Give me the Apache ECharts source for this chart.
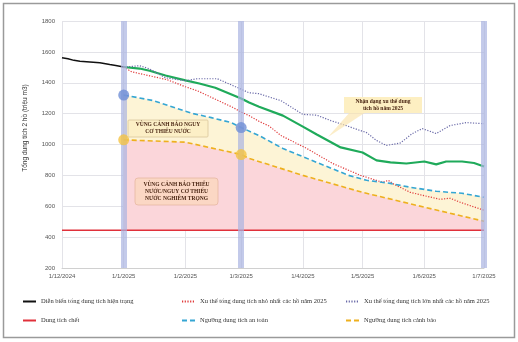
<!DOCTYPE html>
<html><head><meta charset="utf-8">
<script src="https://cdn.jsdelivr.net/npm/echarts@6/dist/echarts.min.js"></script>
<style>html,body{margin:0;padding:0;background:#fff}#c{width:518px;height:342px}</style>
</head><body><div id="c"></div>
<script>
var xTickLabels = ['1/12/2024','1/1/2025','1/2/2025','1/3/2025','1/4/2025','1/5/2025','1/6/2025','1/7/2025'];
var yTicks = [200,400,600,800,1000,1200,1400,1600,1800];
var bandDates = ['2025-01-01','2025-03-01','2025-07-01'];

var current = [['2024-12-01',1562],['2024-12-04',1555],['2024-12-07',1545],['2024-12-10',1540],['2024-12-15',1535],['2024-12-20',1530],['2024-12-25',1518],['2024-12-28',1512],['2025-01-01',1502]];
var trend = [['2025-01-01',1502],['2025-01-09',1492],['2025-01-14',1478],['2025-01-22',1447],['2025-02-01',1415],['2025-02-08',1395],['2025-02-16',1368],['2025-03-01',1298],['2025-03-05',1272],['2025-03-10',1245],['2025-03-22',1187],['2025-04-01',1116],['2025-04-08',1065],['2025-04-20',981],['2025-05-01',948],['2025-05-08',897],['2025-05-15',884],['2025-05-23',877],['2025-06-01',890],['2025-06-07',871],['2025-06-12',890],['2025-06-20',890],['2025-06-26',880],['2025-07-01',858]];
var minTrend = [['2025-01-01',1502],['2025-01-05',1471],['2025-01-14',1445],['2025-01-23',1419],['2025-02-01',1374],['2025-02-07',1348],['2025-02-25',1239],['2025-03-01',1210],['2025-03-05',1187],['2025-03-10',1150],['2025-03-15',1120],['2025-03-21',1058],['2025-04-03',974],['2025-04-16',877],['2025-04-30',800],['2025-05-11',755],['2025-05-14',768],['2025-05-16',748],['2025-05-25',690],['2025-05-31',671],['2025-06-09',645],['2025-06-14',652],['2025-06-19',626],['2025-07-01',574]];
var maxTrend = [['2025-01-01',1502],['2025-01-09',1510],['2025-01-14',1490],['2025-01-22',1432],['2025-02-01',1413],['2025-02-07',1426],['2025-02-17',1426],['2025-02-25',1381],['2025-03-05',1335],['2025-03-10',1329],['2025-03-13',1316],['2025-03-21',1284],['2025-04-01',1195],['2025-04-08',1190],['2025-04-15',1155],['2025-04-21',1130],['2025-04-30',1090],['2025-05-03',1077],['2025-05-08',1026],['2025-05-13',994],['2025-05-20',1010],['2025-05-26',1071],['2025-05-31',1103],['2025-06-07',1071],['2025-06-14',1123],['2025-06-22',1142],['2025-07-01',1135]];
var deadStorage = [['2024-12-01',445],['2025-07-01',445]];
var safeThreshold = [['2025-01-01',1320],['2025-01-03',1316],['2025-01-16',1284],['2025-01-28',1232],['2025-02-05',1200],['2025-02-14',1174],['2025-02-24',1142],['2025-03-01',1110],['2025-03-10',1058],['2025-03-22',974],['2025-04-08',884],['2025-04-24',800],['2025-05-03',768],['2025-05-15',748],['2025-05-25',723],['2025-06-07',697],['2025-06-20',684],['2025-07-01',658]];
var warnThreshold = [['2025-01-01',1030],['2025-02-01',1015],['2025-03-01',935],['2025-03-05',910],['2025-04-01',800],['2025-05-01',690],['2025-06-01',594],['2025-07-01',503]];
var safePoints = [['2025-01-01',1320],['2025-03-01',1110]];
var warnPoints = [['2025-01-01',1030],['2025-03-01',935]];

var names = ['Diễn biến tổng dung tích hiện trạng','Xu thế tổng dung tích nhỏ nhất các hồ năm 2025','Xu thế tổng dung tích lớn nhất các hồ năm 2025','Dung tích chết','Ngưỡng dung tích an toàn','Ngưỡng dung tích cảnh báo'];

var chart = echarts.init(document.getElementById('c'));
var serif = 'Liberation Serif';
var sans = 'Liberation Sans';
function fmtDate(v){var d=new Date(v);return d.getDate()+'/'+(d.getMonth()+1)+'/'+d.getFullYear();}
var legendPos = [[22,298],[181,298],[345,298],[22,317],[181,317],[345,317]];
var legends = names.map(function(n,i){return {data:[n],left:legendPos[i][0],top:legendPos[i][1],padding:0,itemWidth:13,itemHeight:8,itemStyle:{opacity:0},textStyle:{fontFamily:serif,fontSize:6.5,color:'#333'},selectedMode:false};});

chart.setOption({
  animation:false,
  backgroundColor:'#fff',
  legend: legends,
  grid:{left:62,right:34,top:21,bottom:74},
  xAxis:{type:'time',min:'2024-12-01',max:'2025-07-01',splitNumber:7,
    axisLine:{show:true,lineStyle:{color:'#d0d0d0'}},axisTick:{show:false},
    splitLine:{show:true,lineStyle:{color:'#e3e3e8',width:1}},
    axisLabel:{formatter:function(v){return fmtDate(v);},fontFamily:sans,fontSize:6,color:'#555',margin:5,hideOverlap:false}},
  yAxis:{type:'value',min:yTicks[0],max:yTicks[yTicks.length-1],interval:200,
    axisLine:{show:false},axisTick:{show:false},
    splitLine:{lineStyle:{color:'#e3e3e8'}},
    axisLabel:{formatter:function(v){return String(v);},fontFamily:sans,fontSize:6,color:'#555',margin:7}},
  series:[
    {name:'safeFill',type:'line',data:safeThreshold,symbol:'none',lineStyle:{width:0},areaStyle:{origin:445,color:'#fdf4d6',opacity:1},z:1,silent:true},
    {name:'warnFill',type:'line',data:warnThreshold,symbol:'none',lineStyle:{width:0},areaStyle:{origin:445,color:'#fbd6da',opacity:1},z:1,silent:true},
    {name:'bands',type:'line',data:[],markLine:{silent:true,symbol:'none',label:{show:false},lineStyle:{color:'rgba(170,180,225,0.7)',width:6,type:'solid'},data:bandDates.map(function(d){return {xAxis:d};})},z:2},
    {name:names[3],type:'line',data:deadStorage,symbol:'none',lineStyle:{color:'#e0303a',width:1.5},itemStyle:{color:'#e0603a'},z:3},
    {name:names[0],type:'line',data:current,symbol:'none',lineStyle:{color:'#111',width:1.5},itemStyle:{color:'#111'},z:4},
    {name:'trend',type:'line',data:trend,symbol:'none',lineStyle:{color:'#1faa5a',width:2.2},z:4},
    {name:names[1],type:'line',data:minTrend,symbol:'none',lineStyle:{color:'#e03a3a',width:1.2,type:[1.2,1.5]},itemStyle:{color:'#e03a3a'},z:4},
    {name:names[2],type:'line',data:maxTrend,symbol:'none',lineStyle:{color:'#6a6aa8',width:1.2,type:[1.2,1.5]},itemStyle:{color:'#6a6aa8'},z:4},
    {name:names[4],type:'line',data:safeThreshold,symbol:'none',lineStyle:{color:'#35a6d3',width:1.6,type:[5,3]},itemStyle:{color:'#35a6d3'},z:4},
    {name:names[5],type:'line',data:warnThreshold,symbol:'none',lineStyle:{color:'#eeb01e',width:1.6,type:[5,3]},itemStyle:{color:'#eeb01e'},z:4},
    {name:'safePts',type:'scatter',data:safePoints,symbolSize:11,itemStyle:{color:'#6f8fd6'},z:6},
    {name:'warnPts',type:'scatter',data:warnPoints,symbolSize:11,itemStyle:{color:'#f4c343'},z:6}
  ],
  graphic:[
    {type:'rect',shape:{x:3.5,y:3.5,width:511,height:334},style:{fill:null,stroke:'#9a9a9a',lineWidth:1.5},z:100,silent:true},
    {type:'text',x:25,y:128,rotation:Math.PI/2,style:{text:'Tổng dung tích 2 hồ (triệu m3)',fontFamily:sans,fontSize:6.5,fill:'#333',align:'center',verticalAlign:'middle'},z:100},
    {type:'rect',shape:{x:128,y:120,width:80,height:17,r:1},style:{fill:'#fcefc6',stroke:'#d9c79c',lineWidth:0.8},z:100},
    {type:'text',x:168,y:128.5,style:{text:'VÙNG CẢNH BÁO NGUY\nCƠ THIẾU NƯỚC',fontFamily:serif,fontWeight:'bold',fontSize:5.5,lineHeight:7,fill:'#4a2512',align:'center',verticalAlign:'middle'},z:101},
    {type:'rect',shape:{x:135,y:178,width:83,height:27,r:3},style:{fill:'#fbd7c4',stroke:'#e7b8a2',lineWidth:0.8},z:100},
    {type:'text',x:176.5,y:191.5,style:{text:'VÙNG CẢNH BÁO THIẾU\nNƯỚC/NGUY CƠ THIẾU\nNƯỚC NGHIÊM TRỌNG',fontFamily:serif,fontWeight:'bold',fontSize:5.5,lineHeight:7,fill:'#4a2512',align:'center',verticalAlign:'middle'},z:101},
    {type:'polygon',shape:{points:[[350,112],[366,112],[328,137]]},style:{fill:'rgba(250,228,170,0.65)'},z:99},
    {type:'rect',shape:{x:344,y:97,width:78,height:16},style:{fill:'#fdefc2'},z:100},
    {type:'text',x:383,y:105,style:{text:'Nhận dạng xu thế dung\ntích hồ năm 2025',fontFamily:serif,fontWeight:'bold',fontSize:5.5,lineHeight:7,fill:'#4a2512',align:'center',verticalAlign:'middle'},z:101}
  ]
});
</script></body></html>
